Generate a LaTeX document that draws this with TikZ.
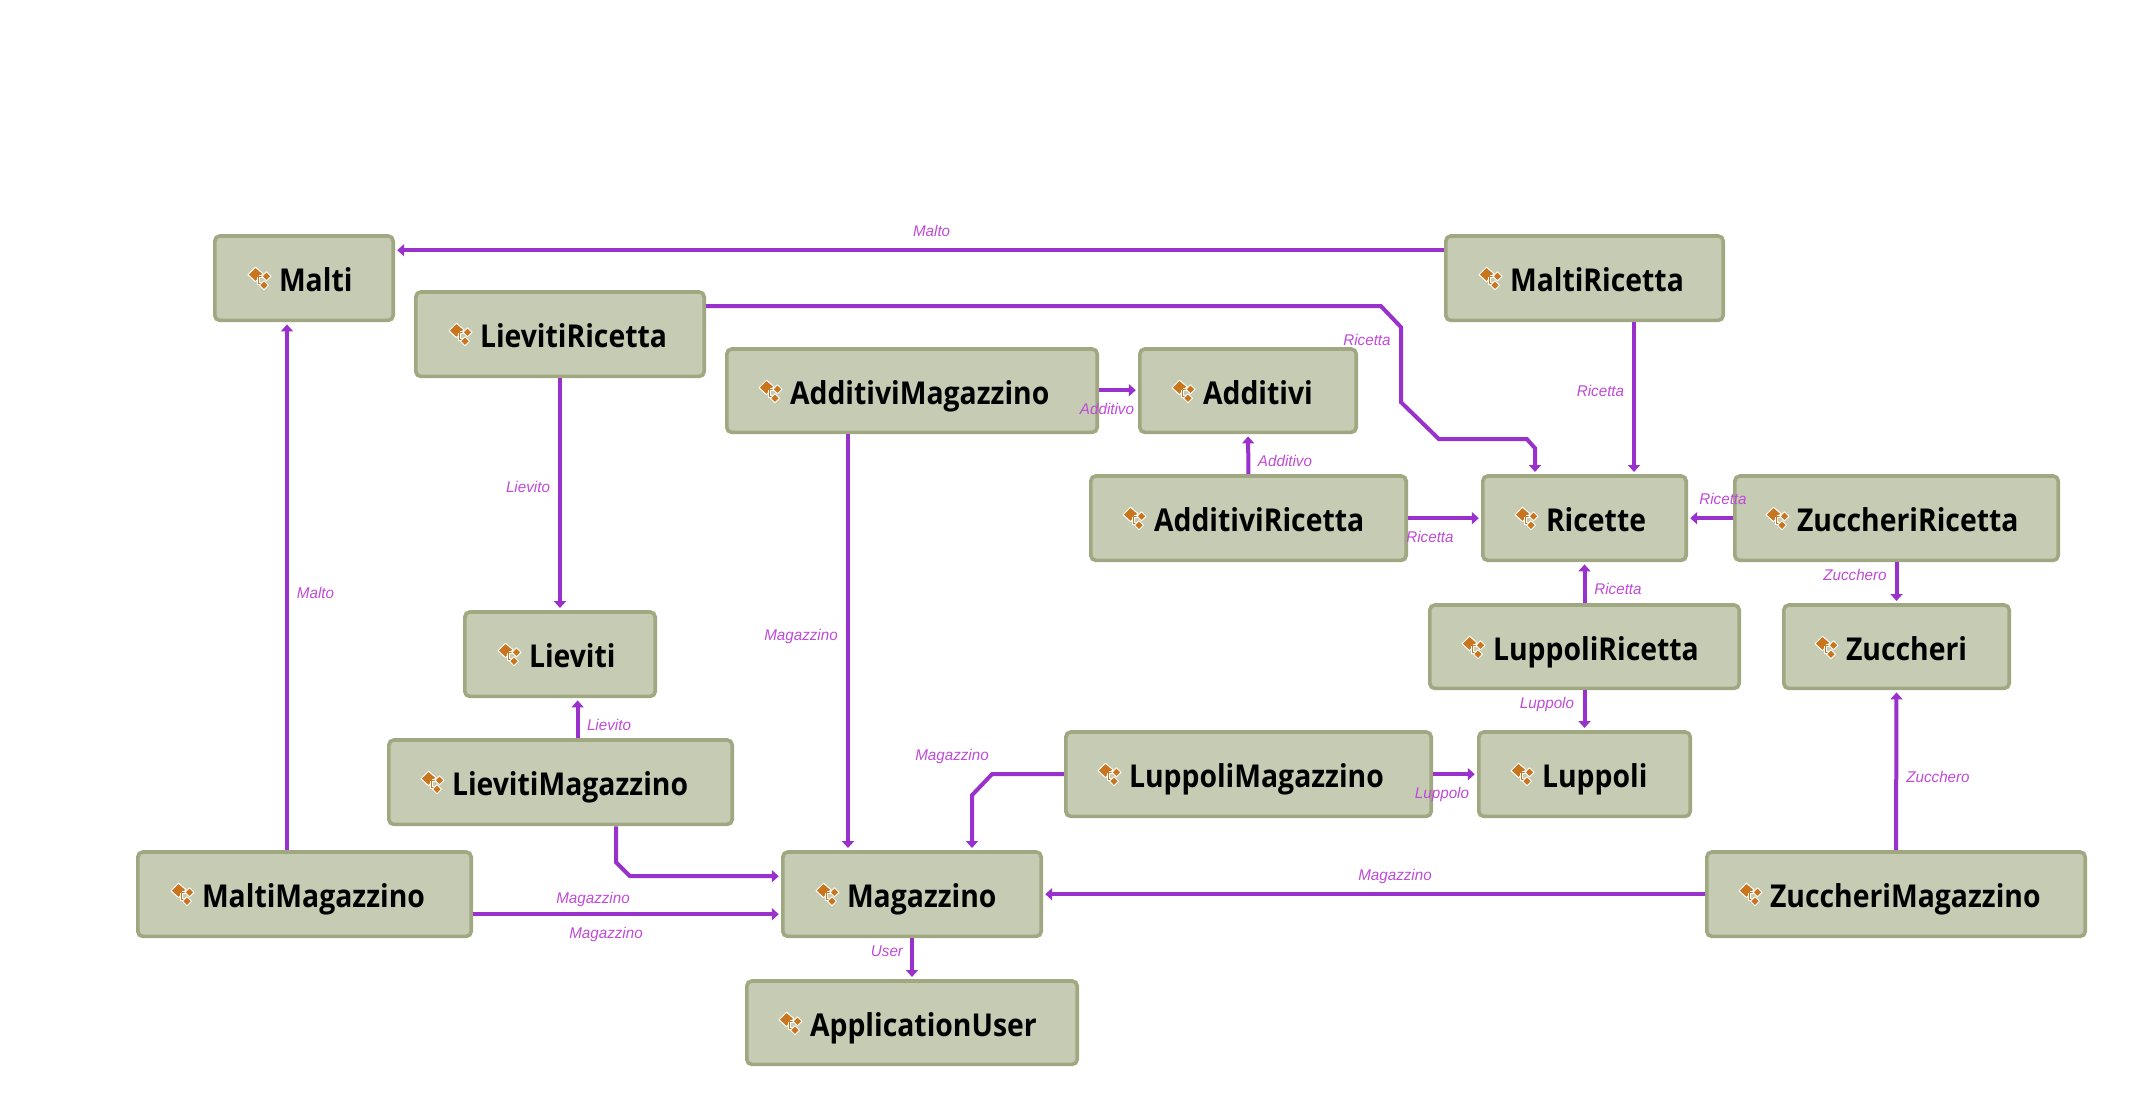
\documentclass[tikz,border=0pt]{standalone}
\usepackage{fontspec}
\usetikzlibrary{arrows.meta}
\setmainfont{Open Sans}
\newfontfamily\entfont[FakeStretch=0.9]{Open Sans Bold}
\newfontfamily\lblfont[FakeStretch=0.98]{Liberation Sans}
\definecolor{boxfill}{HTML}{C6CBB4}
\definecolor{boxline}{HTML}{A0A882}
\definecolor{conncol}{HTML}{9932CC}
\definecolor{lblcol}{HTML}{C04AD8}
\definecolor{iconcol}{HTML}{C8751E}
\tikzset{
  entbox/.style={draw=boxline,fill=boxfill,line width=3.6pt,rounded corners=5pt,outer sep=0pt,inner xsep=0pt,inner ysep=0pt,
    align=left,text height=33pt,text depth=6pt,text=black,font=\entfont\fontsize{31.5}{36}\selectfont},
  conn/.style={draw=conncol,line width=4pt,shorten <=2pt,shorten >=4pt,-{Triangle[length=7pt,width=12pt]}},
  lbl/.style={text=lblcol,inner sep=0pt,font=\lblfont\itshape\fontsize{15.5}{18}\selectfont},
  pics/enticon/.style={code={
    \draw[white,line width=1pt,fill=iconcol,line join=round] (7.5,0)--(15,6.5)--(7.5,14.5)--(0,7.5)--cycle;
    \draw[white,line width=2.8pt] (10.5,9)--(16,9) (10.5,10)--(10.5,16)--(15,16);
    \draw[iconcol,line width=1.1pt] (10.5,9)--(16,9) (10.5,10)--(10.5,16)--(15,16);
    \draw[white,line width=0.9pt,fill=iconcol,line join=round] (18.5,4.5)--(23,9.2)--(18.5,13.5)--(14,9.2)--cycle;
    \draw[white,line width=0.9pt,fill=iconcol,line join=round] (16,13.5)--(20.5,18)--(16,22.5)--(11.5,18)--cycle;
  }}
}
% #1 name, #2 x1, #3 y1, #4 x2, #5 y2, #6 text start x, #7 text
\newcommand\ent[7]{%
  \pgfmathsetmacro\entcx{(#2+#4)/2}\pgfmathsetmacro\entcy{(#3+#5)/2}%
  \pgfmathsetmacro\entw{#4-#2-3.6}\pgfmathsetmacro\enth{#5-#3-3.6}%
  \pgfmathsetmacro\entoff{#6-#2-2.8}%
  \pgfmathsetmacro\iconx{#6-32}\pgfmathsetmacro\icony{#3+33}%
  \node[entbox,text width=\entw pt,minimum width=\entw pt,minimum height=\enth pt] (#1) at (\entcx,\entcy) {\hspace*{\entoff pt}#7};
  \pic at (\iconx,\icony) {enticon};
}
\begin{document}
\begin{tikzpicture}[x=1pt,y=-1pt]
\useasboundingbox (0,0) rectangle (2151,1115);
\begin{scope}[yshift=-1.2pt]
\ent{Malti}{213}{233}{395}{321}{280}{Malti}
\ent{LievitiRicetta}{414}{289}{706}{377}{481}{LievitiRicetta}
\ent{AdditiviMagazzino}{725}{346}{1099}{433}{791}{AdditiviMagazzino}
\ent{Additivi}{1138}{346}{1358}{433}{1204}{Additivi}
\ent{AdditiviRicetta}{1089}{473}{1408}{561}{1155}{AdditiviRicetta}
\ent{MaltiRicetta}{1444}{233}{1725}{321}{1511}{MaltiRicetta}
\ent{Ricette}{1481}{473}{1688}{561}{1547}{Ricette}
\ent{ZuccheriRicetta}{1733}{473}{2060}{561}{1798}{ZuccheriRicetta}
\ent{LuppoliRicetta}{1428}{602}{1741}{689}{1494}{LuppoliRicetta}
\ent{Zuccheri}{1782}{602}{2011}{689}{1847}{Zuccheri}
\ent{Lieviti}{463}{609}{657}{697}{530}{Lieviti}
\ent{LievitiMagazzino}{387}{737}{734}{825}{453}{LievitiMagazzino}
\ent{MaltiMagazzino}{136}{849}{473}{937}{203}{MaltiMagazzino}
\ent{Magazzino}{781}{849}{1043}{937}{848}{Magazzino}
\ent{LuppoliMagazzino}{1064}{729}{1433}{817}{1130}{LuppoliMagazzino}
\ent{Luppoli}{1477}{729}{1692}{817}{1543}{Luppoli}
\ent{ZuccheriMagazzino}{1705}{849}{2087}{937}{1771}{ZuccheriMagazzino}
\ent{ApplicationUser}{745}{978}{1079}{1065}{811}{ApplicationUser}

\draw[conn] (MaltiRicetta.west|-0,249) -- (Malti.east|-0,249);
\draw[conn] (MaltiMagazzino.north-|287,0) -- (Malti.south-|287,0);
\coordinate (lr1) at (1381,305); \coordinate (lr2) at (1401,326); \coordinate (lr3) at (1401,401);
\coordinate (lr4) at (1439,438); \coordinate (lr5) at (1527,438); \coordinate (lr6) at (1535,447);
\draw[conn] (LievitiRicetta.east|-lr1) -- (lr1) -- (lr2) -- (lr3) -- (lr4) -- (lr5) -- (lr6) -- (Ricette.north-|lr6);
\draw[conn] (LievitiRicetta.south) -- (Lieviti.north);
\draw[conn] (AdditiviMagazzino.east|-0,389) -- (Additivi.west|-0,389);
\draw[conn] (AdditiviMagazzino.south-|848,0) -- (Magazzino.north-|848,0);
\draw[conn] (AdditiviRicetta.north) -- (Additivi.south);
\draw[conn] (AdditiviRicetta.east) -- (Ricette.west);
\draw[conn] (MaltiRicetta.south-|1634,0) -- (Ricette.north-|1634,0);
\draw[conn] (ZuccheriRicetta.west) -- (Ricette.east);
\draw[conn] (LuppoliRicetta.north) -- (Ricette.south-|LuppoliRicetta.north);
\draw[conn] (ZuccheriRicetta.south) -- (Zuccheri.north);
\draw[conn] (LuppoliRicetta.south) -- (Luppoli.north-|LuppoliRicetta.south);
\draw[conn] (ZuccheriMagazzino.north) -- (Zuccheri.south);
\draw[conn] (ZuccheriMagazzino.west) -- (Magazzino.east);
\draw[conn] (LuppoliMagazzino.east) -- (Luppoli.west);
\coordinate (lm1) at (992,773); \coordinate (lm2) at (972,794);
\draw[conn] (LuppoliMagazzino.west) -- (lm1) -- (lm2) -- (Magazzino.north-|lm2);
\draw[conn] (LievitiMagazzino.north-|577.6,0) -- (Lieviti.south-|577.6,0);
\coordinate (lv1) at (616,861); \coordinate (lv2) at (630,875);
\draw[conn] (LievitiMagazzino.south-|lv1) -- (lv1) -- (lv2) -- (Magazzino.west|-lv2);
\draw[conn] (MaltiMagazzino.east|-0,913) -- (Magazzino.west|-0,913);
\draw[conn] (Magazzino.south-|912,0) -- (ApplicationUser.north-|912,0);

\node[lbl] (l1) at (931.6,230) {Malto};
\node[lbl] (l2) at (315.5,592) {Malto};
\node[lbl] (l3) at (528,486) {Lievito};
\node[lbl] (l4) at (609,724) {Lievito};
\node[lbl] (l5) at (801,635) {Magazzino};
\node[lbl] (l6) at (1367,339) {Ricetta};
\node[lbl] (l7) at (1107,408) {Additivo};
\node[lbl] (l8) at (1285,460) {Additivo};
\node[lbl] (l9) at (1430,536) {Ricetta};
\node[lbl] (l10) at (1600.5,390) {Ricetta};
\node[lbl] (l11) at (1723,498) {Ricetta};
\node[lbl] (l12) at (1618,588) {Ricetta};
\node[lbl] (l13) at (1855,574) {Zucchero};
\node[lbl] (l14) at (1938,776) {Zucchero};
\node[lbl] (l15) at (1547,703) {Luppolo};
\node[lbl] (l16) at (1442,793) {Luppolo};
\node[lbl] (l17) at (952,755) {Magazzino};
\node[lbl] (l18) at (1395,875) {Magazzino};
\node[lbl] (l19) at (887,950) {User};
\node[lbl] (l20) at (593,898) {Magazzino};
\node[lbl] (l21) at (606,933) {Magazzino};
\end{scope}
\end{tikzpicture}
\end{document}
